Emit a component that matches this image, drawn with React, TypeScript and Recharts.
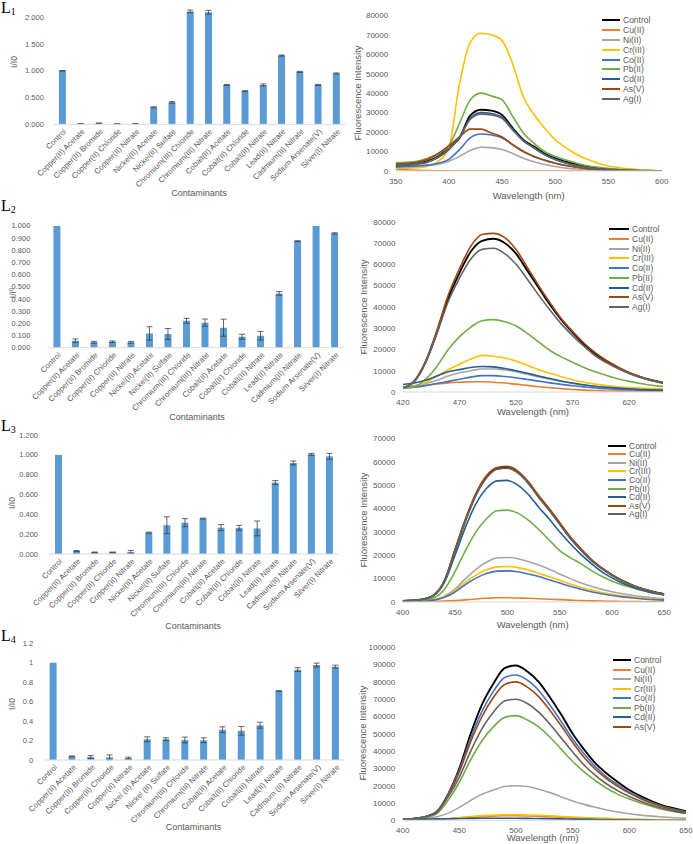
import React from 'react';
import { BarChart, Bar, XAxis, YAxis, ErrorBar, LineChart, Line, Legend } from 'recharts';

const FONT = "'Liberation Sans', Arial, sans-serif";
const TICK = '#595959';

// ---------- Bar chart categories ----------
const contaminants = ['Control', 'Copper(II) Acetate', 'Copper(II) Bromide', 'Copper(II) Chloride', 'Copper(II) Nitrate', 'Nickel(II) Acetate', 'Nickel(II) Sulfate', 'Chromium(III) Chloride', 'Chromium(III) Nitrate', 'Cobalt(II) Acetate', 'Cobalt(II) Chloride', 'Cobalt(II) Nitrate', 'Lead(II) Nitrate', 'Cadmium(II) Nitrate', 'Sodium Arsenate(V)', 'Silver(I) Nitrate'];
const contaminantsL4 = ['Control', 'Copper(II) Acetate', 'Copper(II) Bromide', 'Copper(II) Chloride', 'Copper(II) Nitrate', 'Nickel (II) Acetate', 'Nickel (II) Sulfate', 'Chromium(III) Chloride', 'Chromium(III) Nitrate', 'Cobalt(II) Acetate', 'Cobalt(II) Chloride', 'Cobalt(II) Nitrate', 'Lead(II) Nitrate', 'Cadmium (II) Nitrate', 'Sodium Arsenate(V)', 'Silver(I) Nitrate'];

// ---------- Bar values / error bars ----------
const l1Ratio = [1.0, 0.012, 0.02, 0.01, 0.012, 0.318, 0.41, 2.11, 2.095, 0.735, 0.62, 0.735, 1.285, 0.98, 0.735, 0.95];
const l1Err = [0.005, 0.003, 0.005, 0.003, 0.003, 0.01, 0.015, 0.025, 0.035, 0.01, 0.01, 0.02, 0.01, 0.01, 0.01, 0.01];
const l2Ratio = [1.0, 0.057, 0.044, 0.049, 0.044, 0.117, 0.112, 0.221, 0.205, 0.164, 0.09, 0.098, 0.445, 0.874, 1.0, 0.937];
const l2Err = [0, 0.015, 0.008, 0.006, 0.008, 0.055, 0.045, 0.02, 0.03, 0.07, 0.02, 0.035, 0.015, 0.003, 0, 0.005];
const l3Ratio = [1.0, 0.03, 0.017, 0.017, 0.02, 0.215, 0.29, 0.316, 0.357, 0.266, 0.264, 0.258, 0.72, 0.918, 1.005, 0.985];
const l3Err = [0, 0.005, 0.003, 0.003, 0.015, 0.006, 0.085, 0.04, 0.005, 0.03, 0.025, 0.075, 0.02, 0.02, 0.01, 0.03];
const l4Ratio = [1.0, 0.037, 0.03, 0.027, 0.02, 0.213, 0.213, 0.206, 0.203, 0.311, 0.30, 0.358, 0.71, 0.929, 0.976, 0.96];
const l4Err = [0, 0.005, 0.015, 0.025, 0.01, 0.025, 0.015, 0.03, 0.025, 0.03, 0.045, 0.03, 0.003, 0.02, 0.02, 0.015];

// ---------- Bar axis ticks ----------
const l1YTicks = [0, 0.5, 1, 1.5, 2];
const l2YTicks = [0, 0.1, 0.2, 0.3, 0.4, 0.5, 0.6, 0.7, 0.8, 0.9, 1.0];
const l3YTicks = [0, 0.2, 0.4, 0.6, 0.8, 1.0, 1.2];
const l4YTicks = [0, 0.2, 0.4, 0.6, 0.8, 1.0, 1.2];

// ---------- Spectra ----------
const seriesNames = ['Control', 'Cu(II)', 'Ni(II)', 'Cr(III)', 'Co(II)', 'Pb(II)', 'Cd(II)', 'As(V)', 'Ag(I)'];
const seriesColors = ['#000000', '#ED7D31', '#A5A5A5', '#FFC000', '#4472C4', '#70AD47', '#255E91', '#9E480E', '#636363'];

const l1Wl = [350, 360, 370, 380, 390, 400, 410, 420, 430, 440, 450, 460, 470, 480, 490, 500, 510, 520, 530, 540, 550, 560, 570, 580, 590, 600];
const l1Control = [3500, 3700, 4000, 5000, 7500, 12000, 17000, 28500, 31500, 31000, 28800, 22000, 16000, 12500, 9000, 6500, 4800, 3400, 2200, 1400, 900, 600, 400, 250, 120, 0];
const l1Cu = [800, 600, 400, 200, 100, 50, 0, 0, 0, 0, 0, 0, 0, 0, 0, 0, 0, 0, 0, 0, 0, 0, 0, 0, 0, 0];
const l1Ni = [2500, 2700, 2800, 3000, 3500, 5000, 7500, 10500, 12200, 12000, 11000, 9000, 6500, 4700, 3300, 2300, 1500, 1000, 700, 400, 300, 200, 100, 50, 0, 0];
const l1Cr = [1500, 1500, 1700, 2500, 5000, 12000, 45000, 66000, 70800, 70000, 67000, 55000, 38000, 29000, 22000, 16000, 12000, 8500, 6000, 4000, 2600, 1700, 1100, 600, 300, 100];
const l1Co = [2000, 2200, 2500, 3000, 4000, 6000, 11000, 17000, 19000, 18500, 17000, 13500, 10000, 7500, 5500, 4000, 2800, 1900, 1200, 800, 500, 300, 200, 100, 50, 0];
const l1Pb = [4200, 4500, 5000, 6500, 9000, 13000, 24500, 36500, 40000, 38500, 36500, 28000, 19500, 14200, 10000, 7400, 5600, 4000, 2700, 1900, 1400, 900, 600, 300, 150, 0];
const l1Cd = [2500, 3000, 3500, 4500, 7000, 11000, 17500, 27000, 30000, 29500, 27500, 21500, 15500, 12000, 8500, 6000, 4200, 2800, 1800, 1200, 700, 400, 250, 150, 80, 0];
const l1As = [3500, 4000, 4500, 6000, 9000, 13000, 17500, 21500, 21500, 19500, 17500, 13500, 10000, 7500, 5500, 4000, 2800, 1900, 1200, 800, 500, 300, 200, 100, 50, 0];
const l1Ag = [3000, 3300, 3800, 4800, 7200, 11500, 17000, 26500, 29200, 28800, 27000, 21000, 15500, 11800, 8300, 5800, 4000, 2700, 1800, 1100, 700, 400, 250, 150, 80, 0];

const l2Wl = [420, 430, 440, 450, 460, 470, 480, 490, 500, 510, 520, 530, 540, 550, 560, 570, 580, 590, 600, 610, 620, 630, 640, 650];
const l2Control = [2000, 5000, 14000, 28000, 44000, 56000, 66000, 71000, 72000, 70000, 65000, 57000, 49000, 41000, 34000, 28000, 22500, 18000, 14500, 11500, 9000, 7000, 5500, 4300];
const l2Cu = [2000, 2500, 3200, 3800, 4300, 4600, 4800, 4800, 4600, 4200, 3700, 3100, 2500, 2000, 1600, 1200, 900, 700, 500, 400, 300, 200, 200, 100];
const l2Ni = [2500, 3000, 4000, 5500, 7500, 9000, 10000, 10800, 10800, 10300, 9500, 8300, 7100, 6000, 5000, 4000, 3200, 2600, 2100, 1700, 1400, 1200, 1000, 900];
const l2Cr = [1800, 2500, 4500, 7500, 10500, 13000, 15500, 17200, 16800, 16000, 14500, 12500, 10500, 8800, 7200, 5800, 4600, 3700, 3000, 2500, 2100, 1800, 1600, 1500];
const l2Co = [2000, 2300, 3000, 4000, 5000, 6000, 7000, 7700, 7700, 7300, 6700, 5900, 5100, 4300, 3600, 2900, 2400, 1900, 1500, 1200, 1000, 800, 700, 600];
const l2Pb = [1800, 2500, 6000, 12000, 20000, 26000, 30500, 33500, 34000, 33000, 31000, 27500, 23500, 19500, 16500, 14000, 11500, 9500, 7800, 6200, 5000, 4000, 3200, 2500];
const l2Cd = [3500, 4200, 5500, 7500, 9500, 10500, 11500, 12000, 11800, 11000, 10000, 8800, 7500, 6300, 5200, 4200, 3400, 2700, 2200, 1800, 1500, 1200, 1000, 900];
const l2As = [2000, 5200, 14500, 29000, 45500, 58000, 68500, 74000, 74500, 72500, 67000, 58500, 50000, 42000, 34500, 28500, 23000, 18500, 14800, 11800, 9200, 7200, 5600, 4400];
const l2Ag = [2000, 5000, 14000, 27500, 42500, 53500, 62500, 67000, 67500, 65000, 60000, 53000, 45500, 38500, 32000, 26500, 21500, 17000, 13800, 11000, 8700, 6800, 5300, 4100];

const l3Wl = [400, 410, 420, 430, 440, 450, 460, 470, 480, 490, 500, 510, 520, 530, 540, 550, 560, 570, 580, 590, 600, 610, 620, 630, 640, 650];
const l3Control = [500, 700, 1200, 3000, 9000, 22000, 35000, 46000, 53500, 57000, 57500, 55500, 51000, 45000, 39500, 33500, 27500, 22500, 18000, 14500, 11500, 9000, 7000, 5500, 4300, 3300];
const l3Cu = [200, 200, 200, 300, 400, 600, 900, 1300, 1600, 1800, 1800, 1700, 1600, 1400, 1200, 1000, 800, 600, 500, 400, 300, 200, 200, 100, 100, 100];
const l3Ni = [300, 400, 500, 1000, 2500, 5500, 10000, 14000, 17000, 18800, 19000, 18500, 17300, 15800, 14000, 12000, 10000, 8200, 6700, 5500, 4400, 3500, 2800, 2200, 1800, 1400];
const l3Cr = [300, 400, 500, 900, 2200, 4800, 8500, 11500, 13800, 15000, 15200, 14700, 13700, 12300, 10800, 9200, 7700, 6300, 5100, 4100, 3300, 2600, 2100, 1700, 1400, 1100];
const l3Co = [300, 400, 500, 800, 2000, 4300, 7500, 10200, 12200, 13200, 13300, 12900, 12000, 10900, 9500, 8100, 6700, 5500, 4400, 3500, 2800, 2200, 1700, 1300, 1000, 800];
const l3Pb = [300, 500, 800, 1800, 5500, 13000, 22000, 30000, 35500, 39000, 39300, 38000, 35000, 31000, 26500, 22000, 19000, 16500, 13500, 11000, 9000, 7300, 6000, 4800, 3800, 3000];
const l3Cd = [500, 700, 1200, 2800, 8500, 20000, 32000, 42000, 48500, 51800, 52000, 50000, 46000, 40500, 35500, 30000, 25000, 20500, 16500, 13000, 10300, 8000, 6300, 4900, 3800, 3000];
const l3As = [500, 700, 1200, 3000, 9200, 22500, 35500, 46500, 54000, 57500, 58000, 56000, 51500, 45500, 40000, 34000, 28000, 23000, 18300, 14700, 11700, 9200, 7200, 5600, 4400, 3400];
const l3Ag = [500, 700, 1200, 3000, 8800, 21500, 34500, 45500, 53000, 56800, 57200, 55200, 50700, 44700, 39200, 33200, 27300, 22300, 17800, 14300, 11400, 8900, 6900, 5400, 4200, 3200];

const l4Wl = [400, 410, 420, 430, 440, 450, 460, 470, 480, 490, 500, 510, 520, 530, 540, 550, 560, 570, 580, 590, 600, 610, 620, 630, 640, 650];
const l4Control = [500, 1000, 2000, 5000, 15000, 30000, 50000, 67000, 79000, 88000, 89500, 86000, 80000, 71000, 61000, 50000, 41000, 33000, 27000, 22000, 17500, 14000, 11000, 8500, 6800, 5200];
const l4Cu = [200, 300, 400, 500, 800, 1200, 1700, 2100, 2400, 2600, 2600, 2500, 2300, 2000, 1700, 1500, 1200, 1000, 800, 700, 500, 400, 300, 300, 200, 200];
const l4Ni = [300, 500, 1000, 2000, 4000, 7500, 11500, 15000, 17500, 19500, 20000, 19500, 18000, 16000, 13500, 11200, 9200, 7500, 6000, 4800, 3800, 3000, 2400, 1900, 1500, 1200];
const l4Cr = [200, 300, 400, 600, 900, 1500, 2200, 2700, 3000, 3200, 3200, 3100, 2900, 2600, 2200, 1900, 1600, 1300, 1100, 900, 700, 600, 500, 400, 300, 300];
const l4Co = [500, 1000, 2000, 5000, 15000, 29000, 47500, 63000, 74500, 82500, 84000, 81000, 75000, 66500, 57000, 47000, 38500, 31000, 25000, 20500, 16300, 13000, 10300, 8000, 6300, 4800];
const l4Pb = [400, 800, 1600, 3800, 11500, 22000, 35000, 46000, 54000, 59500, 60500, 58000, 54000, 48000, 41000, 34000, 28000, 23000, 18500, 15000, 12300, 10000, 8000, 6300, 5000, 3900];
const l4Cd = [500, 600, 700, 800, 900, 1000, 1100, 1200, 1200, 1200, 1200, 1100, 1000, 900, 800, 700, 600, 500, 400, 300, 200, 100, 100, 0, 0, 0];
const l4As = [500, 1000, 2000, 4800, 14500, 28000, 45500, 60000, 71000, 78500, 80000, 77000, 71500, 63500, 54500, 45000, 36500, 29500, 24000, 19500, 15700, 12500, 9800, 7700, 6000, 4600];
const l4Ag = [500, 1000, 2000, 4500, 13500, 25000, 40000, 53000, 62500, 69000, 70000, 67500, 62500, 55500, 47500, 39500, 32000, 26000, 21000, 17000, 13800, 11000, 8700, 6800, 5300, 4100];

const l1XTicks = [350, 400, 450, 500, 550, 600];
const l2XTicks = [420, 470, 520, 570, 620];
const l34XTicks = [400, 450, 500, 550, 600, 650];
const y80Ticks = [0, 10000, 20000, 30000, 40000, 50000, 60000, 70000, 80000];
const y70Ticks = [0, 10000, 20000, 30000, 40000, 50000, 60000, 70000];
const y100Ticks = [0, 10000, 20000, 30000, 40000, 50000, 60000, 70000, 80000, 90000, 100000];

// ---------- Components ----------
function CatTick(props: any) {
  const { x, y, payload } = props;
  const ax = x + 3;
  const ay = y + 6;
  return (
    <text x={ax} y={ay} transform={`rotate(-45 ${ax} ${ay})`} textAnchor="end" dominantBaseline="central" fontSize={7.8} fill={TICK} fontFamily={FONT}>
      {payload.value}
    </text>
  );
}

type BarCfg = {
  top: number; height: number; plotLeft: number; plotRight: number; plotTop: number; zero: number;
  names: string[]; values: number[]; errors: number[]; domain: [number, number]; ticks: number[];
  fmt: (v: number) => string; gap: number;
};

function BarPanel({ c }: { c: BarCfg }) {
  const W = 346;
  const data = c.names.map((n, i) => ({ name: n, v: c.values[i], e: c.errors[i] }));
  return (
    <div style={{ position: 'absolute', left: 0, top: c.top, width: W, height: c.height }}>
      <BarChart width={W} height={c.height} data={data} margin={{ top: c.plotTop - c.top, right: W - c.plotRight, bottom: 0, left: 0 }}>
        <XAxis dataKey="name" interval={0} height={c.height - (c.zero - c.top)} tick={<CatTick />} tickLine={false} tickSize={0} tickMargin={0} axisLine={{ stroke: '#D9D9D9' }} />
        <YAxis width={c.plotLeft} type="number" domain={c.domain} ticks={c.ticks} allowDataOverflow interval={0} tickFormatter={c.fmt} axisLine={false} tickLine={false} tickSize={0} tickMargin={c.gap} tick={{ fontSize: 7.5, fill: TICK, fontFamily: FONT }} />
        <Bar dataKey="v" fill="#5B9BD5" barSize={7} isAnimationActive={false}>
          <ErrorBar dataKey="e" width={3} stroke="#404040" strokeWidth={0.8} direction="y" />
        </Bar>
      </BarChart>
    </div>
  );
}

function makeLegend(gap: number, lineW: number) {
  return (props: any) => {
    const items = (props.payload || [])
      .filter((p: any) => p.type !== 'none')
      .slice()
      .sort((a: any, b: any) => seriesNames.indexOf(a.value) - seriesNames.indexOf(b.value));
    return (
      <div style={{ position: 'relative', width: 80, height: 100 }}>
        {items.map((p: any, i: number) => (
          <div key={i} style={{ position: 'absolute', left: 0, top: i * gap, height: 12, display: 'flex', alignItems: 'center', whiteSpace: 'nowrap', fontSize: 8.5, color: TICK, fontFamily: FONT }}>
            <span style={{ display: 'inline-block', width: lineW, height: 2, background: p.color, marginRight: 3 }} />
            <span>{p.value}</span>
          </div>
        ))}
      </div>
    );
  };
}

type LineCfg = {
  top: number; height: number; plotLeft: number; plotRight: number; plotTop: number; plotBottom: number;
  wl: number[]; series: number[][]; hide: string[]; xDomain: [number, number]; xTicks: number[];
  yDomain: [number, number]; yTicks: number[]; legendX: number; legendY: number; legendGap: number; legendLineW: number;
};

function LinePanel({ c }: { c: LineCfg }) {
  const L = 346;
  const W = 347;
  const data = c.wl.map((w, i) => {
    const r: any = { wl: w };
    seriesNames.forEach((n, j) => { r[n] = c.series[j][i]; });
    return r;
  });
  return (
    <div style={{ position: 'absolute', left: L, top: c.top, width: W, height: c.height }}>
      <LineChart width={W} height={c.height} data={data} margin={{ top: c.plotTop - c.top, right: L + W - c.plotRight, bottom: 0, left: 0 }}>
        <XAxis dataKey="wl" type="number" domain={c.xDomain} ticks={c.xTicks} interval={0} allowDataOverflow height={c.height - (c.plotBottom - c.top)} tickLine={false} tickSize={0} tickMargin={7} axisLine={{ stroke: '#D9D9D9' }} tick={{ fontSize: 8, fill: TICK, fontFamily: FONT }} />
        <YAxis width={c.plotLeft - L} type="number" domain={c.yDomain} ticks={c.yTicks} interval={0} allowDataOverflow axisLine={false} tickLine={false} tickSize={0} tickMargin={7.5} tick={{ fontSize: 8, fill: TICK, fontFamily: FONT }} />
        <Legend layout="vertical" align="center" verticalAlign="middle" wrapperStyle={{ left: c.legendX - L, top: c.legendY - c.top - 6, width: 80, height: 100 }} content={makeLegend(c.legendGap, c.legendLineW)} />
        {seriesNames.map((n, j) => (
          <Line key={n} dataKey={n} name={n} stroke={seriesColors[j]} strokeWidth={n === 'Control' ? 1.9 : 1.6} dot={false} type="monotone" isAnimationActive={false} legendType={c.hide.includes(n) ? 'none' : 'line'} />
        ))}
      </LineChart>
    </div>
  );
}

function Txt({ x, y, rotate, size, children }: { x: number; y: number; rotate?: boolean; size: number; children: React.ReactNode }) {
  return (
    <div style={{ position: 'absolute', left: x, top: y, transform: `translate(-50%,-50%)${rotate ? ' rotate(-90deg)' : ''}`, fontSize: size, color: TICK, whiteSpace: 'nowrap', fontFamily: FONT, lineHeight: 1 }}>
      {children}
    </div>
  );
}

function PanelLabel({ top, n }: { top: number; n: string }) {
  return (
    <div style={{ position: 'absolute', left: 1, top, fontFamily: "'Liberation Serif','Times New Roman',serif", fontSize: 16, lineHeight: '16px', color: '#000', whiteSpace: 'nowrap' }}>
      L<span style={{ fontSize: 10, position: 'relative', top: 2 }}>{n}</span>
    </div>
  );
}

const fmt3 = (v: number) => v.toFixed(3);
const fmt1 = (v: number) => String(Math.round(v * 10) / 10);

export default function App() {
  const bars: BarCfg[] = [
    { top: 0, height: 205, plotLeft: 52.9, plotRight: 345.1, plotTop: 6.6, zero: 124.3, names: contaminants, values: l1Ratio, errors: l1Err, domain: [0, 2.2], ticks: l1YTicks, fmt: fmt3, gap: 9 },
    { top: 210, height: 205, plotLeft: 47.4, plotRight: 343.6, plotTop: 225.7, zero: 347.7, names: contaminants, values: l2Ratio, errors: l2Err, domain: [0, 1], ticks: l2YTicks, fmt: fmt3, gap: 17 },
    { top: 420, height: 205, plotLeft: 49, plotRight: 338, plotTop: 435, zero: 554, names: contaminants, values: l3Ratio, errors: l3Err, domain: [0, 1.2], ticks: l3YTicks, fmt: fmt3, gap: 11 },
    { top: 630, height: 195, plotLeft: 43.6, plotRight: 344.7, plotTop: 643.3, zero: 760, names: contaminantsL4, values: l4Ratio, errors: l4Err, domain: [0, 1.2], ticks: l4YTicks, fmt: fmt1, gap: 10.5 },
  ];
  const lines: LineCfg[] = [
    { top: 0, height: 205, plotLeft: 395.7, plotRight: 661.7, plotTop: 15.3, plotBottom: 171, wl: l1Wl, series: [l1Control, l1Cu, l1Ni, l1Cr, l1Co, l1Pb, l1Cd, l1As, l1Ag], hide: [], xDomain: [350, 600], xTicks: l1XTicks, yDomain: [0, 80000], yTicks: y80Ticks, legendX: 602, legendY: 20.3, legendGap: 9.84, legendLineW: 18 },
    { top: 210, height: 205, plotLeft: 403, plotRight: 663, plotTop: 221.7, plotBottom: 392, wl: l2Wl, series: [l2Control, l2Cu, l2Ni, l2Cr, l2Co, l2Pb, l2Cd, l2As, l2Ag], hide: [], xDomain: [420, 650], xTicks: l2XTicks, yDomain: [0, 80000], yTicks: y80Ticks, legendX: 609, legendY: 229, legendGap: 9.75, legendLineW: 20 },
    { top: 420, height: 210, plotLeft: 402.7, plotRight: 664.3, plotTop: 438.3, plotBottom: 602, wl: l3Wl, series: [l3Control, l3Cu, l3Ni, l3Cr, l3Co, l3Pb, l3Cd, l3As, l3Ag], hide: [], xDomain: [400, 650], xTicks: l34XTicks, yDomain: [0, 70000], yTicks: y70Ticks, legendX: 608, legendY: 445.7, legendGap: 8.58, legendLineW: 18 },
    { top: 630, height: 214, plotLeft: 402.7, plotRight: 686, plotTop: 647.3, plotBottom: 820.3, wl: l4Wl, series: [l4Control, l4Cu, l4Ni, l4Cr, l4Co, l4Pb, l4Cd, l4As, l4Ag], hide: ['Ag(I)'], xDomain: [400, 650], xTicks: l34XTicks, yDomain: [0, 100000], yTicks: y100Ticks, legendX: 613, legendY: 660, legendGap: 9.57, legendLineW: 18 },
  ];
  return (
    <div style={{ position: 'absolute', left: 0, top: 0, width: 693, height: 844, background: '#ffffff', overflow: 'hidden', fontFamily: FONT }}>
      {bars.map((c, i) => <BarPanel key={'b' + i} c={c} />)}
      {lines.map((c, i) => <LinePanel key={'l' + i} c={c} />)}

      <PanelLabel top={0} n="1" />
      <PanelLabel top={197.6} n="2" />
      <PanelLabel top={417.6} n="3" />
      <PanelLabel top={628.3} n="4" />

      <Txt x={14} y={62} rotate size={8.5}>I/I0</Txt>
      <Txt x={12.7} y={293} rotate size={8.5}>I/I<span style={{ fontSize: 6, position: 'relative', top: -3 }}>0</span></Txt>
      <Txt x={11.7} y={503} rotate size={8.5}>I/I0</Txt>
      <Txt x={12.3} y={704} rotate size={8.5}>I/I0</Txt>

      <Txt x={199} y={193} size={9}>Contaminants</Txt>
      <Txt x={197} y={416.7} size={9}>Contaminants</Txt>
      <Txt x={193} y={625.7} size={9}>Contaminants</Txt>
      <Txt x={193.5} y={826.7} size={9}>Contaminants</Txt>

      <Txt x={358.3} y={93} rotate size={9.5}>Fluorescence Intensity</Txt>
      <Txt x={364.3} y={306.7} rotate size={9.5}>Fluorescence Intensity</Txt>
      <Txt x={364.3} y={520} rotate size={9.5}>Fluorescence Intensity</Txt>
      <Txt x={362.7} y={733.3} rotate size={9.5}>Fluorescence Intensity</Txt>

      <Txt x={528.7} y={196} size={9.5}>Wavelength (nm)</Txt>
      <Txt x={533} y={411.7} size={9.5}>Wavelength (nm)</Txt>
      <Txt x={532.7} y={625} size={9.5}>Wavelength (nm)</Txt>
      <Txt x={542.7} y={838} size={9.5}>Wavelength (nm)</Txt>
    </div>
  );
}
